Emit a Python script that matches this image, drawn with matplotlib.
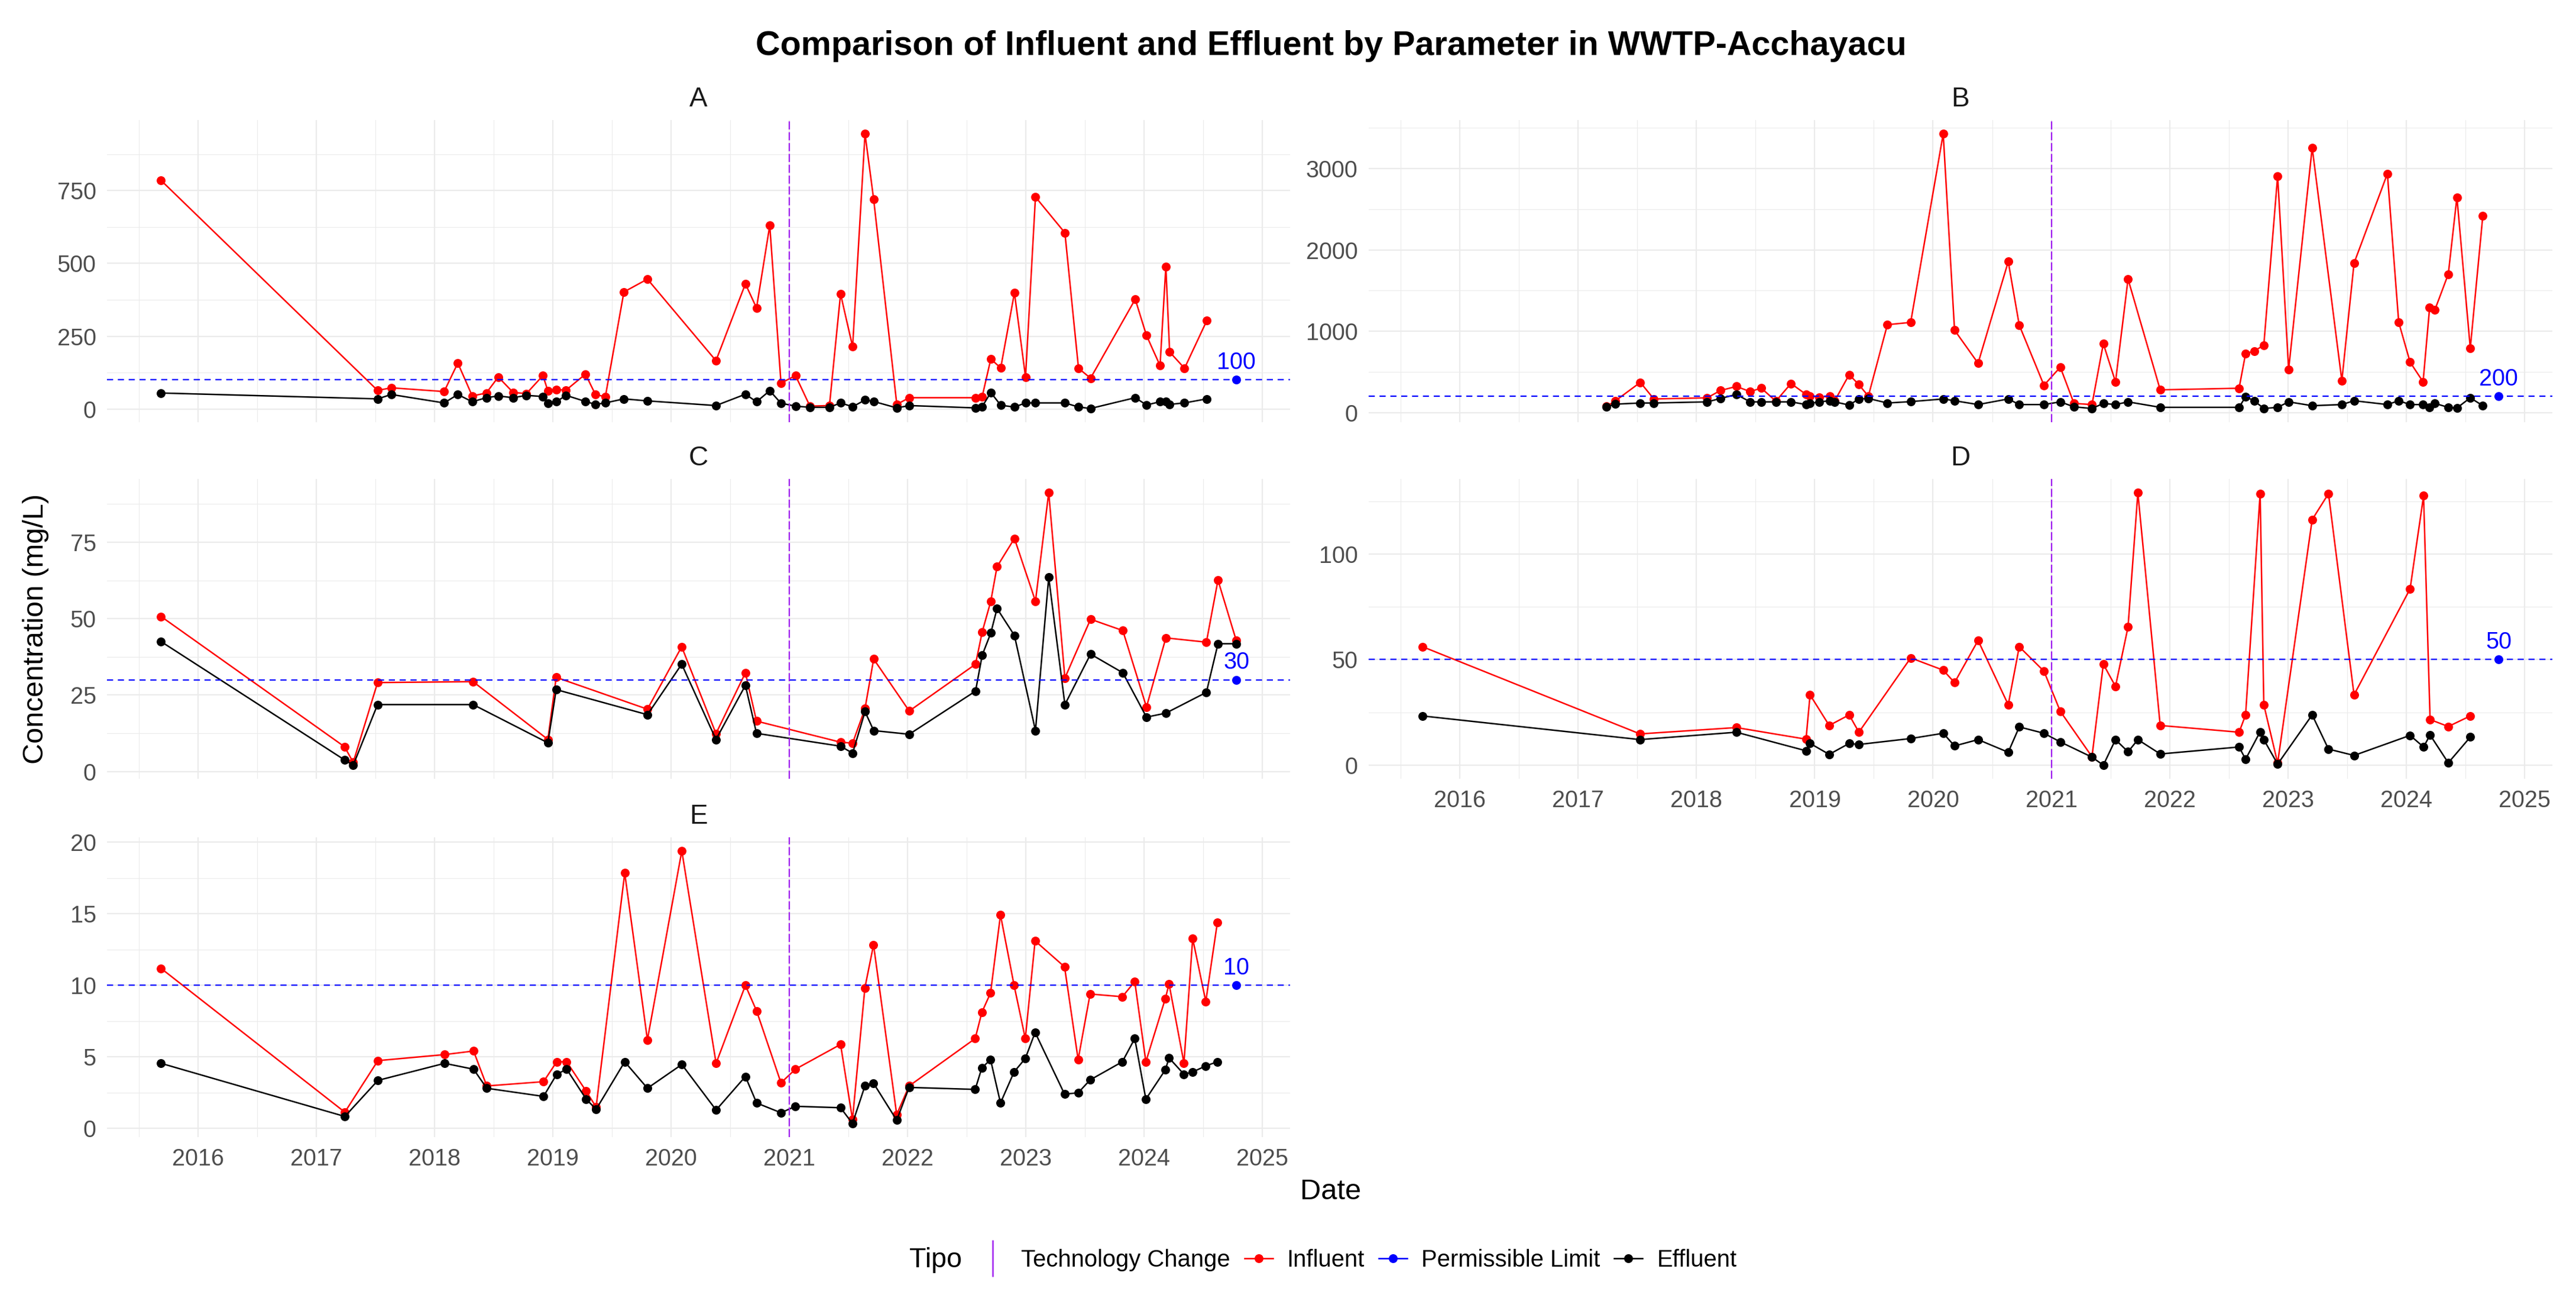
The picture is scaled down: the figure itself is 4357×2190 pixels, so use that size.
"""
Influent vs effluent concentrations per parameter at WWTP-Acchayacu,
faceted A-E, with permissible limits and the technology change date.
"""

import matplotlib.pyplot as plt
from matplotlib.lines import Line2D
from matplotlib.ticker import MultipleLocator, FixedLocator, NullFormatter

plt.rcParams['font.family'] = ['Liberation Sans', 'DejaVu Sans']

# ---------------- data (dates as decimal years) ----------------
a_dates = [2015.685, 2017.517, 2017.633, 2018.080, 2018.196, 2018.318, 2018.437,
           2018.538, 2018.664, 2018.776, 2018.916, 2018.958, 2019.028, 2019.112,
           2019.276, 2019.360, 2019.444, 2019.601, 2019.800, 2020.380, 2020.629,
           2020.723, 2020.835, 2020.930, 2021.053, 2021.175, 2021.340, 2021.434,
           2021.536, 2021.641, 2021.714, 2021.910, 2022.015, 2022.576, 2022.632,
           2022.705, 2022.789, 2022.905, 2022.999, 2023.083, 2023.332, 2023.447,
           2023.549, 2023.927, 2024.022, 2024.137, 2024.186, 2024.218, 2024.344,
           2024.533]
a_influent = [785, 64, 73, 60, 158, 45, 55, 110, 57, 53, 115, 62, 67, 65, 120, 50, 42,
              402, 446, 166, 430, 347, 630, 89, 115, 10, 12, 395, 214, 945, 720, 16,
              39, 39, 42, 172, 141, 399, 110, 728, 605, 140, 106, 377, 253, 149, 489,
              196, 140, 304]
a_effluent = [55, 35, 50, 21, 50, 25, 39, 45, 39, 47, 43, 20, 25, 47, 26, 16, 21, 35,
              28, 12, 51, 25, 63, 20, 10, 6, 6, 21, 8, 31, 26, 4, 12, 4, 8, 57, 13, 7,
              21, 21, 21, 7, 2, 39, 14, 25, 25, 16, 21, 35]

b_dates = [2017.239, 2017.315, 2017.525, 2017.639, 2018.090, 2018.203, 2018.337,
           2018.454, 2018.547, 2018.671, 2018.799, 2018.926, 2018.960, 2019.040,
           2019.126, 2019.167, 2019.291, 2019.373, 2019.453, 2019.614, 2019.811,
           2020.086, 2020.182, 2020.381, 2020.636, 2020.729, 2020.938, 2021.076,
           2021.192, 2021.344, 2021.440, 2021.543, 2021.649, 2021.921, 2022.588,
           2022.643, 2022.715, 2022.797, 2022.914, 2023.007, 2023.206, 2023.457,
           2023.560, 2023.842, 2023.938, 2024.034, 2024.144, 2024.199, 2024.244,
           2024.357, 2024.430, 2024.543, 2024.649]
b_influent = [75, 145, 371, 167, 181, 271, 321, 257, 301, 140, 357, 223, 201, 190, 201,
              140, 466, 343, 201, 1080, 1108, 3427, 1013, 606, 1856, 1075, 335, 558,
              112, 98, 846, 377, 1641, 279, 299, 726, 754, 829, 2908, 530, 3257, 391,
              1836, 2936, 1108, 620, 377, 1289, 1264, 1702, 2646, 790, 2420]
b_effluent = [70, 103, 117, 117, 131, 173, 223, 131, 131, 131, 131, 98, 112, 131, 145,
              131, 92, 167, 173, 117, 134, 167, 145, 98, 167, 98, 98, 131, 70, 50, 112,
              98, 131, 64, 64, 195, 145, 50, 64, 131, 84, 98, 145, 98, 145, 98, 98, 64,
              112, 64, 56, 181, 84]

c_dates = [2015.685, 2017.238, 2017.311, 2017.517, 2018.325, 2018.958, 2019.028,
           2019.800, 2020.090, 2020.380, 2020.629, 2020.723, 2021.434, 2021.536,
           2021.641, 2021.714, 2022.015, 2022.576, 2022.632, 2022.705, 2022.758,
           2022.905, 2023.083, 2023.195, 2023.332, 2023.549, 2023.822, 2024.022,
           2024.186, 2024.529, 2024.627, 2024.782]
c_influent = [50.7, 8.1, 3.0, 29.1, 29.4, 10.5, 30.8, 20.4, 40.8, 12.4, 32.3, 16.5, 9.6,
              9.3, 20.6, 36.8, 19.8, 35.1, 45.6, 55.7, 67.0, 76.2, 55.7, 91.2, 30.6,
              49.8, 46.1, 21.1, 43.7, 42.3, 62.6, 42.8]
c_effluent = [42.5, 3.8, 2.1, 21.9, 21.9, 9.4, 26.8, 18.6, 35.1, 10.5, 28.2, 12.5, 8.3,
              6.0, 19.6, 13.4, 12.2, 26.3, 38.0, 45.3, 53.3, 44.5, 13.4, 63.5, 21.9,
              38.4, 32.3, 17.8, 19.1, 25.9, 41.8, 41.8]

d_dates = [2015.683, 2017.522, 2018.337, 2018.926, 2018.960, 2019.122, 2019.291,
           2019.373, 2019.811, 2020.086, 2020.182, 2020.381, 2020.636, 2020.729,
           2020.938, 2021.076, 2021.344, 2021.440, 2021.543, 2021.649, 2021.732,
           2021.921, 2022.588, 2022.643, 2022.766, 2022.797, 2022.914, 2023.206,
           2023.344, 2023.560, 2024.034, 2024.148, 2024.203, 2024.357, 2024.543]
d_influent = [56.1, 14.8, 17.8, 12.3, 33.3, 18.8, 23.8, 15.6, 50.8, 45.0, 39.1, 59.1,
              28.6, 56.1, 44.5, 25.5, 4.0, 47.8, 37.3, 65.5, 129.1, 18.8, 15.6, 23.8,
              128.6, 28.6, 1.0, 116.3, 128.6, 33.3, 83.5, 127.6, 21.6, 18.3, 23.3]
d_effluent = [23.3, 12.1, 15.6, 6.8, 10.3, 5.1, 10.3, 9.8, 12.6, 15.1, 9.1, 12.1, 6.1,
              18.1, 15.1, 11.0, 3.8, 0.0, 12.1, 6.3, 12.1, 5.3, 8.6, 2.8, 15.8, 12.1,
              0.5, 23.8, 7.6, 4.6, 14.1, 8.6, 14.3, 1.1, 13.3]

e_dates = [2015.685, 2017.240, 2017.520, 2018.084, 2018.329, 2018.441, 2018.921,
           2019.033, 2019.117, 2019.282, 2019.366, 2019.608, 2019.800, 2020.091,
           2020.381, 2020.629, 2020.724, 2020.930, 2021.052, 2021.434, 2021.535,
           2021.640, 2021.713, 2021.909, 2022.014, 2022.573, 2022.629, 2022.703,
           2022.787, 2022.902, 2022.997, 2023.080, 2023.329, 2023.444, 2023.545,
           2023.818, 2023.923, 2024.017, 2024.182, 2024.213, 2024.339, 2024.413,
           2024.524, 2024.622]
e_influent = [11.18, 1.14, 4.74, 5.16, 5.41, 2.97, 3.27, 4.66, 4.66, 2.60, 1.50, 17.84,
              6.19, 19.38, 4.55, 10.0, 8.2, 3.19, 4.14, 5.87, 0.63, 9.82, 12.83, 0.98,
              2.97, 6.28, 8.1, 9.47, 14.92, 10.0, 6.28, 13.1, 11.29, 4.81, 9.39, 9.2,
              10.26, 4.66, 9.08, 10.1, 4.58, 13.26, 8.87, 14.4]
e_effluent = [4.55, 0.84, 3.36, 4.55, 4.14, 2.81, 2.24, 3.79, 4.14, 2.05, 1.34, 4.66,
              2.81, 4.47, 1.29, 3.63, 1.78, 1.10, 1.55, 1.45, 0.35, 2.97, 3.16, 0.58,
              2.87, 2.73, 4.23, 4.81, 1.78, 3.95, 4.89, 6.71, 2.40, 2.49, 3.39, 4.66,
              6.28, 2.05, 4.10, 4.93, 3.79, 3.95, 4.37, 4.66]

parameters = ['A', 'B', 'C', 'D', 'E']
permissible_limits = [100, 200, 30, 50, 10]
tech_change_date = 2021.0
year_ticks = [2016, 2017, 2018, 2019, 2020, 2021, 2022, 2023, 2024, 2025]

panel_dates = [a_dates, b_dates, c_dates, d_dates, e_dates]
panel_influent = [a_influent, b_influent, c_influent, d_influent, e_influent]
panel_effluent = [a_effluent, b_effluent, c_effluent, d_effluent, e_effluent]

# limit marker sits at the last sampling date
limit_date = max(max(d) for d in panel_dates)

# ---------------- layout ----------------
W, H = 4357, 2190
DPI = 300
fig = plt.figure(figsize=(W / DPI, H / DPI), dpi=DPI)


def rect(left, right, top, bottom):
    return [left / W, 1 - bottom / H, (right - left) / W, (bottom - top) / H]


panel_rects = [rect(181, 2182, 203, 714), rect(2315, 4317, 203, 714),
               rect(181, 2182, 810, 1317), rect(2315, 4317, 810, 1317),
               rect(181, 2182, 1416, 1923)]
y_steps = [250, 1000, 25, 50, 5]
show_x_labels = [False, False, False, True, True]

# shared x range (ggplot 5% expansion)
all_x = [x for d in panel_dates for x in d] + [limit_date, tech_change_date]
x_lo, x_hi = min(all_x), max(all_x)
x_pad = 0.05 * (x_hi - x_lo)

grid_col = '#EBEBEB'
tick_col = '#4D4D4D'
purple = '#A020F0'
ms = 3.6
lw = 0.6

for i, name in enumerate(parameters):
    ax = fig.add_axes(panel_rects[i])
    dates = panel_dates[i]
    inf = panel_influent[i]
    eff = panel_effluent[i]
    lim = permissible_limits[i]

    ax.plot(dates, inf, color='red', lw=lw, marker='o', ms=ms, mew=0, zorder=3)
    ax.plot(dates, eff, color='black', lw=lw, marker='o', ms=ms, mew=0, zorder=4)
    ax.axhline(lim, color='blue', lw=0.55, dashes=(4.5, 3.5), zorder=5)
    ax.axvline(tech_change_date, color=purple, lw=0.55, dashes=(6, 2), zorder=5)
    ax.plot([limit_date], [lim], 'o', color='blue', ms=ms, mew=0, zorder=6)
    ax.annotate(str(lim), (limit_date, lim), xytext=(0, 2.5), textcoords='offset points',
                ha='center', va='bottom', color='blue', fontsize=9.5, zorder=6)

    y_all = list(inf) + list(eff) + [lim]
    y_lo, y_hi = min(y_all), max(y_all)
    y_pad = 0.05 * (y_hi - y_lo)
    ax.set_ylim(y_lo - y_pad, y_hi + y_pad)
    ax.set_xlim(x_lo - x_pad, x_hi + x_pad)

    step = y_steps[i]
    ax.yaxis.set_major_locator(MultipleLocator(step))
    ax.yaxis.set_minor_locator(MultipleLocator(step / 2))
    ax.xaxis.set_major_locator(FixedLocator(year_ticks))
    ax.xaxis.set_minor_locator(MultipleLocator(0.5))
    ax.set_xticklabels([str(y) for y in year_ticks])
    ax.yaxis.set_major_formatter(plt.FuncFormatter(lambda v, p: f'{v:g}'))
    if not show_x_labels[i]:
        ax.xaxis.set_major_formatter(NullFormatter())

    ax.set_axisbelow(True)
    ax.grid(which='major', color=grid_col, lw=0.55)
    ax.grid(which='minor', color=grid_col, lw=0.28)
    for s in ax.spines.values():
        s.set_visible(False)
    ax.tick_params(which='both', length=0, labelsize=9.5, labelcolor=tick_col, pad=4.4)

    ax.annotate(name, xy=(0.5, 1), xycoords='axes fraction', xytext=(0, 8.4),
                textcoords='offset points', ha='center', va='center',
                fontsize=11, color='#1A1A1A')

# titles
fig.text(2251 / W, 1 - 78 / H,
         'Comparison of Influent and Effluent by Parameter in WWTP-Acchayacu',
         ha='center', va='center', fontsize=13.8, fontweight='bold')
fig.text(2251 / W, 1 - 2015 / H, 'Date', ha='center', va='center', fontsize=11.7)
fig.text(61 / W, 1 - 1063 / H, 'Concentration (mg/L)', ha='center', va='center',
         rotation=90, fontsize=11.7)

# legend
fig.text(1538 / W, 1 - 2131 / H, 'Tipo', ha='left', va='center', fontsize=11.2)
handles = [
    Line2D([], [], color=purple, marker='|', linestyle='None', ms=15, mew=0.6),
    Line2D([], [], color='red', lw=lw, marker='o', ms=ms, mew=0),
    Line2D([], [], color='blue', lw=lw, marker='o', ms=ms, mew=0),
    Line2D([], [], color='black', lw=lw, marker='o', ms=ms, mew=0),
]
labels = ['Technology Change', 'Influent', 'Permissible Limit', 'Effluent']
fig.legend(handles, labels, loc='center left', bbox_to_anchor=(1655 / W, 1 - 2131 / H),
           ncol=4, frameon=False, fontsize=9.6, handlelength=1.2, handletextpad=0.6,
           columnspacing=0.6, borderpad=0, borderaxespad=0)

fig.savefig('out.png', dpi=DPI, facecolor='white')
